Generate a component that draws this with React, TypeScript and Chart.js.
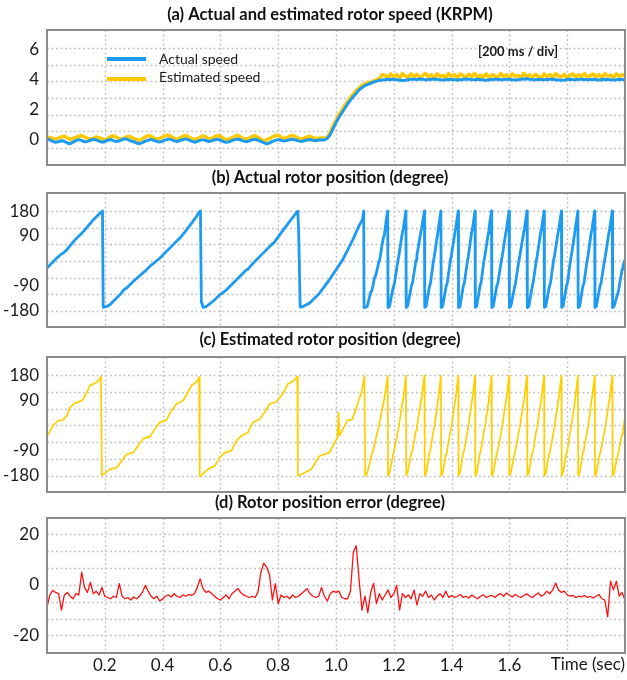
import React, { useEffect, useRef } from "react";
import { Chart, registerables } from "chart.js";

Chart.register(...registerables);

const FONT = "Lato, 'Open Sans', sans-serif";

// ---------- DATA ----------
const timeSec = [
  0, 0.01, 0.02, 0.03, 0.04, 0.05, 0.06, 0.07, 0.08, 0.09,
  0.1, 0.11, 0.12, 0.13, 0.14, 0.15, 0.16, 0.17, 0.18, 0.19,
  0.2, 0.21, 0.22, 0.23, 0.24, 0.25, 0.26, 0.27, 0.28, 0.29,
  0.3, 0.31, 0.32, 0.33, 0.34, 0.35, 0.36, 0.37, 0.38, 0.39,
  0.4, 0.41, 0.42, 0.43, 0.44, 0.45, 0.46, 0.47, 0.48, 0.49,
  0.5, 0.51, 0.52, 0.53, 0.54, 0.55, 0.56, 0.57, 0.58, 0.59,
  0.6, 0.61, 0.62, 0.63, 0.64, 0.65, 0.66, 0.67, 0.68, 0.69,
  0.7, 0.71, 0.72, 0.73, 0.74, 0.75, 0.76, 0.77, 0.78, 0.79,
  0.8, 0.81, 0.82, 0.83, 0.84, 0.85, 0.86, 0.87, 0.88, 0.89,
  0.9, 0.91, 0.92, 0.93, 0.94, 0.95, 0.96, 0.97, 0.98, 0.99,
  1.0, 1.01, 1.02, 1.03, 1.04, 1.05, 1.06, 1.07, 1.08, 1.09,
  1.1, 1.11, 1.12, 1.13, 1.14, 1.15, 1.16, 1.17, 1.18, 1.19,
  1.2, 1.21, 1.22, 1.23, 1.24, 1.25, 1.26, 1.27, 1.28, 1.29,
  1.3, 1.31, 1.32, 1.33, 1.34, 1.35, 1.36, 1.37, 1.38, 1.39,
  1.4, 1.41, 1.42, 1.43, 1.44, 1.45, 1.46, 1.47, 1.48, 1.49,
  1.5, 1.51, 1.52, 1.53, 1.54, 1.55, 1.56, 1.57, 1.58, 1.59,
  1.6, 1.61, 1.62, 1.63, 1.64, 1.65, 1.66, 1.67, 1.68, 1.69,
  1.7, 1.71, 1.72, 1.73, 1.74, 1.75, 1.76, 1.77, 1.78, 1.79,
  1.8, 1.81, 1.82, 1.83, 1.84, 1.85, 1.86, 1.87, 1.88, 1.89,
  1.9, 1.91, 1.92, 1.93, 1.94, 1.95, 1.96, 1.97, 1.98, 1.99,
  2.0,
];

// KRPM
const actualSpeed = [
  0.05, 0.0, -0.1, -0.15, -0.12, -0.05, -0.08, -0.2, -0.25, -0.15,
  -0.05, 0.02, -0.04, -0.12, -0.1, -0.02, 0.05, 0.0, -0.08, -0.15,
  -0.1, -0.02, 0.03, -0.05, -0.1, -0.06, 0.02, 0.08, 0.02, -0.06,
  -0.12, -0.2, -0.25, -0.18, -0.08, -0.02, 0.04, -0.03, -0.1, -0.14,
  -0.08, 0.0, 0.06, 0.02, -0.06, -0.1, -0.04, 0.03, 0.07, 0.0,
  -0.08, -0.15, -0.1, -0.03, 0.02, -0.04, -0.1, -0.06, 0.02, 0.05,
  -0.02, -0.1, -0.16, -0.12, -0.04, 0.02, 0.06, 0.0, -0.08, -0.12,
  -0.06, 0.02, 0.05, -0.02, -0.1, -0.18, -0.26, -0.2, -0.1, -0.03,
  0.03, -0.02, -0.08, -0.04, 0.02, 0.05, 0.0, -0.06, -0.1, -0.05,
  0.0, 0.03, -0.02, -0.05, 0.0, 0.02, 0.0,
  0.1, 0.35, 0.75, 1.15, 1.5, 1.8, 2.1, 2.4, 2.65, 2.9,
  3.1, 3.35, 3.5, 3.62, 3.7, 3.78, 3.86, 3.92, 3.97, 4.0,
  4.02, 4.04, 4.03, 4.05, 4.02, 4.0, 3.96, 3.98, 4.02, 4.04,
  4.05, 4.03, 4.06, 4.04, 4.02, 4.03, 4.05, 4.07, 4.04, 4.02,
  4.0, 4.02, 4.04, 4.03, 4.01, 3.99, 4.02, 4.04, 4.06, 4.05,
  4.03, 4.02, 4.04, 4.03, 4.0, 3.98, 4.01, 4.03, 4.05, 4.04,
  4.02, 4.03, 4.05, 4.04, 4.02, 4.0, 4.02, 4.04, 4.06, 4.08,
  4.05, 4.03, 4.02, 4.04, 4.03, 4.01, 4.03, 4.05, 4.04, 4.02,
  4.0, 3.98, 4.0, 4.03, 4.05, 4.03, 4.02, 4.04, 4.05, 4.03,
  4.01, 4.03, 4.04, 4.02, 4.0, 4.02, 4.04, 4.03, 4.02, 4.0,
  4.02, 4.04, 4.03, 4.02,
];

const estimatedSpeed = [
  0.2, 0.15, 0.1, 0.05, 0.12, 0.2, 0.25, 0.15, 0.05, 0.1,
  0.18, 0.25, 0.3, 0.2, 0.1, 0.05, 0.1, 0.2, 0.15, 0.08,
  0.0, 0.1, 0.22, 0.28, 0.18, 0.08, 0.05, 0.15, 0.25, 0.2,
  0.1, 0.02, -0.02, 0.08, 0.2, 0.3, 0.25, 0.12, 0.05, 0.1,
  0.2, 0.3, 0.33, 0.22, 0.1, 0.05, 0.12, 0.25, 0.3, 0.2,
  0.1, 0.02, 0.08, 0.18, 0.28, 0.2, 0.08, 0.1, 0.22, 0.3,
  0.25, 0.12, 0.0, 0.05, 0.15, 0.25, 0.32, 0.2, 0.1, 0.05,
  0.12, 0.22, 0.28, 0.18, 0.05, -0.05, 0.0, 0.1, 0.2, 0.28,
  0.32, 0.2, 0.1, 0.15, 0.25, 0.3, 0.22, 0.1, 0.05, 0.12,
  0.2, 0.25, 0.15, 0.1, 0.12, 0.15, 0.1,
  0.2, 0.5, 0.95, 1.3, 1.7, 1.95, 2.3, 2.55, 2.85, 3.05,
  3.3, 3.45, 3.65, 3.7, 3.85, 3.8, 3.95, 4.0, 4.1, 4.35,
  4.3, 4.15, 4.4, 4.2, 4.35, 4.12, 4.42, 4.25, 4.18, 4.4,
  4.22, 4.38, 4.15, 4.3, 4.44, 4.2, 4.35, 4.12, 4.4, 4.25,
  4.3, 4.16, 4.42, 4.22, 4.36, 4.14, 4.4, 4.28, 4.18, 4.38,
  4.24, 4.42, 4.16, 4.32, 4.2, 4.4, 4.15, 4.35, 4.26, 4.18,
  4.42, 4.22, 4.36, 4.14, 4.4, 4.25, 4.3, 4.16, 4.44, 4.2,
  4.35, 4.18, 4.38, 4.24, 4.14, 4.4, 4.22, 4.36, 4.16, 4.42,
  4.26, 4.2, 4.38, 4.14, 4.32, 4.4, 4.18, 4.35, 4.22, 4.42,
  4.16, 4.3, 4.4, 4.2, 4.36, 4.15, 4.42, 4.25, 4.32, 4.18,
  4.4, 4.22, 4.35, 4.28,
];

// degrees
const positionError = [
  -8.8, -4, -2.2, -3, -3.5, -10, -4, -3, -4.5, -5.5,
  -3.5, -4, 5, -1, -3, 1, -3.5, -2.5, -4, -1,
  -4.5, -5, -5.5, -4.5, -5, 0.5, -4.5, -5.5, -5, -6,
  -4.8, -5.5, -4.5, -3, -0.2, -2.5, -4.5, -5.5, -4.5, -6.4,
  -5.5, -4.5, -4, -4.8, -3.5, -4.5, -5, -4, -4.5, -3.8,
  -4.2, -3.5, -1, 2.4, -1.5, -3, -2.5, -3.5, -4.5, -5.5,
  -6, -5, -4, -5.5, -3.5, -2.5, -1.4, -3, -4, -4.5,
  -5, -4.5, -5, -3, 5, 8.6, 7, 4, -6, 0.5,
  -7.4, -4, -5, -4.5, -5.5, -4, -5, -4.5, -3.5, -2.5,
  -1.5, -3.5, -4.5, -5, -4.5, -1, -4.5, -6.4, -3.5, -2.5,
  -3, -2.5, -5, -5.5, -5.5, -2.5, 13, 15.5, 2, -10,
  -4.5, -11, -3, 0.6, -7.4, -3.5, -6, -4, -2, -5,
  -3.5, -0.2, -10, -3.5, -5, -4, -5.5, -2, -8, -3.5,
  -4.5, -2.5, -5, -4, -6, -4.5, -3.5, -5, -2.5, -5,
  -4.2, -5, -4.5, -3.8, -5, -4.5, -5.2, -4, -4.8, -5.5,
  -4.5, -4, -5, -4.5, -4.2, -5, -4, -3.5, -4.5, -3.2,
  -4, -4.8, -3.8, -4.5, -5, -4.2, -3.5, -4.5, -5, -4,
  -3.2, -4.5, -3.8, -2.5, -3.5, -2, 0.7, -2, -3, -2.5,
  -4, -4.5, -4.2, -5, -4.5, -4.8, -4.2, -5, -4.5, -5.2,
  -4.5, -3.8, -5.5, -6, -12.7, 1.5, -2, 1.5, -4.5, -3,
  -6,
];

// [time (s), angle (deg)]
const actualPosition = [
  [0, -25], [0.033, 10], [0.05, 25], [0.055, 28], [0.068, 40], [0.097, 76], [0.11, 90], [0.115, 94], [0.131, 112], [0.16, 148], [0.183, 172], [0.192, 180],
  [0.1945, -167], [0.205, -165], [0.2176, -158], [0.252, -122], [0.27, -100], [0.275, -98], [0.298, -74], [0.344, -32], [0.36, -15], [0.365, -12], [0.39, 10], [0.436, 58], [0.455, 78], [0.46, 82], [0.483, 112], [0.517, 160], [0.528, 178], [0.531, 180],
  [0.534, -150], [0.536, -152], [0.54, -167], [0.55, -165], [0.574, -146], [0.6, -120], [0.605, -117], [0.621, -104], [0.667, -56], [0.69, -32], [0.695, -30], [0.713, -8], [0.759, 40], [0.78, 62], [0.785, 65], [0.805, 94], [0.839, 142], [0.866, 178], [0.868, 180],
  [0.871, 94], [0.876, -165], [0.88, -167], [0.908, -152], [0.943, -116], [0.977, -68], [1.023, 4], [1.058, 76], [1.081, 130], [1.087, 140], [1.092, 150], [1.096, 180],
  [1.097, -168], [1.108, -165], [1.12, -112], [1.124, -108], [1.133, -62], [1.138, -50], [1.148, -5], [1.152, 8], [1.163, 80], [1.167, 92], [1.174, 150], [1.179, 180],
  [1.18, -168], [1.185, -164], [1.198, -95], [1.202, -82], [1.214, 0], [1.217, 15], [1.229, 98], [1.233, 118], [1.242, 180],
  [1.243, -168], [1.248, -162], [1.261, -90], [1.265, -78], [1.277, 4], [1.28, 20], [1.293, 102], [1.296, 116], [1.306, 180],
  [1.307, -167], [1.312, -163], [1.323, -94], [1.327, -80], [1.337, 0], [1.34, 16], [1.352, 100], [1.354, 114], [1.363, 180],
  [1.364, -168], [1.369, -164], [1.381, -92], [1.385, -79], [1.396, 3], [1.399, 19], [1.411, 99], [1.414, 117], [1.423, 180],
  [1.424, -168], [1.429, -165], [1.44, -93], [1.444, -80], [1.455, 1], [1.458, 17], [1.469, 101], [1.472, 115], [1.481, 180],
  [1.482, -167], [1.487, -163], [1.498, -91], [1.502, -78], [1.512, 2], [1.515, 18], [1.527, 100], [1.529, 116], [1.538, 180],
  [1.539, -168], [1.544, -164], [1.556, -92], [1.56, -80], [1.572, 0], [1.575, 16], [1.587, 98], [1.59, 115], [1.599, 180],
  [1.6, -168], [1.605, -163], [1.618, -94], [1.621, -81], [1.633, 2], [1.636, 18], [1.649, 100], [1.652, 117], [1.661, 180],
  [1.662, -168], [1.667, -164], [1.679, -92], [1.682, -79], [1.693, 1], [1.696, 17], [1.708, 101], [1.711, 116], [1.72, 180],
  [1.721, -167], [1.726, -164], [1.738, -93], [1.742, -80], [1.753, 3], [1.756, 18], [1.768, 99], [1.771, 115], [1.78, 180],
  [1.781, -168], [1.786, -163], [1.797, -92], [1.801, -79], [1.811, 0], [1.814, 17], [1.826, 100], [1.828, 116], [1.837, 180],
  [1.838, -168], [1.843, -164], [1.854, -91], [1.858, -80], [1.869, 2], [1.872, 18], [1.883, 101], [1.886, 115], [1.895, 180],
  [1.896, -168], [1.901, -163], [1.913, -93], [1.917, -80], [1.929, 1], [1.932, 17], [1.944, 99], [1.947, 116], [1.956, 180],
  [1.957, -168], [1.962, -164], [1.974, -120], [1.978, -105], [1.99, -30], [1.993, -18], [2.0, 5],
];

// [time (s), angle (deg)]
const estimatedPosition = [
  [0, -40], [0.0207, -1], [0.038, 17], [0.0553, 20], [0.0691, 35], [0.0794, 65], [0.0967, 80], [0.1209, 89], [0.1382, 119], [0.1485, 143], [0.1727, 155], [0.1831, 167], [0.1865, 176],
  [0.19, -178], [0.1945, -175], [0.2176, -157], [0.2408, -151], [0.258, -127], [0.2753, -103], [0.2981, -97], [0.3154, -73], [0.3326, -47], [0.3558, -40], [0.3731, -13], [0.3903, 11], [0.4135, 20], [0.4307, 53], [0.448, 77], [0.4708, 89], [0.4881, 119], [0.4998, 143], [0.5171, 155], [0.5261, 173],
  [0.5285, -180], [0.5344, -179], [0.5561, -157], [0.5803, -145], [0.5976, -115], [0.6149, -97], [0.638, -91], [0.6553, -55], [0.6725, -37], [0.6953, -25], [0.7126, 11], [0.7358, 23], [0.753, 47], [0.7703, 77], [0.7934, 85], [0.8162, 113], [0.8335, 149], [0.8508, 157], [0.866, 176],
  [0.868, -179], [0.8715, -179], [0.8912, -169], [0.9143, -157], [0.9316, -127], [0.943, -109], [0.9775, -97], [0.9948, -61], [1.0052, -43], [1.0086, 47], [1.0121, -36], [1.0397, 18], [1.057, 22], [1.0743, 76], [1.0881, 119], [1.0984, 176],
  [1.101, -180], [1.108, -172], [1.124, -100], [1.128, -92], [1.144, -20], [1.148, -5], [1.164, 80], [1.168, 100], [1.179, 178],
  [1.18, -180], [1.185, -170], [1.198, -102], [1.201, -90], [1.214, -22], [1.217, -6], [1.229, 78], [1.233, 98], [1.242, 178],
  [1.243, -179], [1.248, -168], [1.261, -98], [1.264, -90], [1.277, -18], [1.28, -4], [1.293, 82], [1.296, 100], [1.306, 178],
  [1.307, -180], [1.312, -170], [1.323, -100], [1.326, -92], [1.337, -20], [1.34, -6], [1.352, 80], [1.354, 99], [1.363, 178],
  [1.364, -180], [1.369, -171], [1.381, -101], [1.384, -91], [1.396, -21], [1.399, -5], [1.411, 79], [1.414, 101], [1.423, 178],
  [1.424, -180], [1.429, -169], [1.44, -99], [1.443, -92], [1.455, -19], [1.458, -4], [1.469, 81], [1.472, 98], [1.481, 178],
  [1.482, -180], [1.487, -170], [1.498, -100], [1.501, -91], [1.512, -20], [1.515, -6], [1.527, 80], [1.529, 100], [1.538, 178],
  [1.539, -180], [1.544, -171], [1.556, -102], [1.559, -92], [1.572, -21], [1.575, -5], [1.587, 79], [1.59, 99], [1.599, 178],
  [1.6, -179], [1.605, -169], [1.618, -100], [1.621, -90], [1.633, -20], [1.636, -5], [1.649, 81], [1.652, 100], [1.661, 178],
  [1.662, -180], [1.667, -170], [1.679, -99], [1.682, -92], [1.693, -19], [1.696, -6], [1.708, 80], [1.711, 99], [1.72, 178],
  [1.721, -180], [1.726, -170], [1.738, -101], [1.741, -91], [1.753, -21], [1.756, -5], [1.768, 79], [1.771, 101], [1.78, 178],
  [1.781, -180], [1.786, -169], [1.797, -100], [1.8, -92], [1.811, -20], [1.814, -4], [1.826, 80], [1.828, 98], [1.837, 178],
  [1.838, -180], [1.843, -171], [1.854, -99], [1.857, -91], [1.869, -20], [1.872, -6], [1.883, 81], [1.886, 100], [1.895, 178],
  [1.896, -180], [1.901, -170], [1.913, -101], [1.916, -92], [1.929, -21], [1.932, -5], [1.944, 80], [1.947, 99], [1.956, 178],
  [1.957, -180], [1.962, -170], [1.974, -110], [1.977, -100], [1.99, -30], [1.993, -15], [2.0, 30],
];

const speedTicks = [0, 2, 4, 6];
const angleTicks = [-180, -90, 90, 180];
const errorTicks = [-20, 0, 20];
const timeTicks = [0.2, 0.4, 0.6, 0.8, 1.0, 1.2, 1.4, 1.6];
const timeGrid = [0.2, 0.4, 0.6, 0.8, 1.0, 1.2, 1.4, 1.6, 1.8];
const timeAxisLabel = "Time (sec)";
const divisionNote = "[200 ms / div]";

const BLUE = "#1e9bf0";
const YELLOW = "#ffcf00";
const RED = "#ff1010";
const TEXT = "#1a1a1a";

function zip(t: number[], v: number[]) {
  return t.map((x, i) => ({ x, y: v[i] }));
}
function pairs(p: number[][]) {
  return p.map(([x, y]) => ({ x, y }));
}

type Spec = {
  key: string;
  title: string;
  top: number;
  height: number;
  padBottom: number;
  titleGap: number;
  yMin: number;
  yMax: number;
  yTicks: number[];
  hGrid: number[];
  showX: boolean;
  datasets: any[];
  extras?: (ctx: CanvasRenderingContext2D, a: any, chart: any) => void;
};

const lineDefaults = {
  pointRadius: 0,
  fill: false,
  tension: 0,
  borderJoinStyle: "round",
  borderCapStyle: "butt",
  spanGaps: true,
};

const specs: Spec[] = [
  {
    key: "a",
    title: "(a) Actual and estimated rotor speed (KRPM)",
    top: 0,
    height: 189,
    padBottom: 24,
    titleGap: 15,
    yMin: -1.67,
    yMax: 7.33,
    yTicks: speedTicks,
    hGrid: [-0.53, 0.58, 1.69, 2.8, 3.91, 5.02, 6.13],
    showX: false,
    datasets: [
      { ...lineDefaults, label: "Actual speed", data: zip(timeSec, actualSpeed), borderColor: BLUE, borderWidth: 3 },
      { ...lineDefaults, label: "Estimated speed", data: zip(timeSec, estimatedSpeed), borderColor: "#ffc800", borderWidth: 3.5 },
    ],
    extras: (ctx, a, chart) => {
      const ds = chart.data.datasets;
      const lineY = [a.top + 29, a.top + 49];
      const textY = [a.top + 29, a.top + 47];
      ds.forEach((d: any, i: number) => {
        ctx.strokeStyle = d.borderColor;
        ctx.lineWidth = 4;
        ctx.setLineDash([]);
        ctx.beginPath();
        ctx.moveTo(a.left + 60, lineY[i]);
        ctx.lineTo(a.left + 99, lineY[i]);
        ctx.stroke();
        ctx.font = `14px ${FONT}`;
        ctx.fillStyle = TEXT;
        ctx.textAlign = "left";
        ctx.textBaseline = "middle";
        ctx.fillText(d.label, a.left + 112, textY[i]);
      });
      ctx.font = `bold 13px ${FONT}`;
      ctx.textAlign = "right";
      ctx.fillText(divisionNote, a.right - 67, a.top + 22);
    },
  },
  {
    key: "b",
    title: "(b) Actual rotor position (degree)",
    top: 163,
    height: 188,
    padBottom: 24,
    titleGap: 15,
    yMin: -238,
    yMax: 245,
    yTicks: angleTicks,
    hGrid: [-180, -120, -60, 0, 60, 120, 180],
    showX: false,
    datasets: [
      { ...lineDefaults, label: "Actual position", data: pairs(actualPosition), borderColor: BLUE, borderWidth: 2.8 },
    ],
  },
  {
    key: "c",
    title: "(c) Estimated rotor position (degree)",
    top: 327,
    height: 189,
    padBottom: 24,
    titleGap: 17,
    yMin: -238,
    yMax: 245,
    yTicks: angleTicks,
    hGrid: [-180, -120, -60, 0, 60, 120, 180],
    showX: false,
    datasets: [
      { ...lineDefaults, label: "Estimated position", data: pairs(estimatedPosition), borderColor: YELLOW, borderWidth: 1.7 },
    ],
  },
  {
    key: "d",
    title: "(d) Rotor position error (degree)",
    top: 488,
    height: 192,
    padBottom: 0,
    titleGap: 15,
    yMin: -27,
    yMax: 26.5,
    yTicks: errorTicks,
    hGrid: [-20, -13.33, -6.67, 0, 6.67, 13.33, 20],
    showX: true,
    datasets: [
      { ...lineDefaults, label: "Position error", data: zip(timeSec, positionError), borderColor: RED, borderWidth: 1.3 },
    ],
    extras: (ctx, a) => {
      ctx.font = `17px ${FONT}`;
      ctx.fillStyle = TEXT;
      ctx.textAlign = "right";
      ctx.textBaseline = "middle";
      ctx.fillText(timeAxisLabel, a.right, a.bottom + 12);
    },
  },
];

function makeDecor(spec: Spec) {
  return {
    id: "decor_" + spec.key,
    beforeDatasetsDraw(chart: any) {
      const { ctx, chartArea: a, scales } = chart;
      const x = scales.x;
      const y = scales.y;
      ctx.save();
      ctx.strokeStyle = "#c4c4c4";
      ctx.lineWidth = 1.4;
      ctx.setLineDash([2, 2.5]);
      ctx.beginPath();
      for (const v of spec.hGrid) {
        const py = Math.round(y.getPixelForValue(v)) + 0.5;
        ctx.moveTo(a.left, py);
        ctx.lineTo(a.right, py);
      }
      for (const v of timeGrid) {
        const px = Math.round(x.getPixelForValue(v)) + 0.5;
        ctx.moveTo(px, a.top);
        ctx.lineTo(px, a.bottom);
      }
      ctx.stroke();
      ctx.restore();
    },
    afterDatasetsDraw(chart: any) {
      const { ctx, chartArea: a } = chart;
      ctx.save();
      ctx.setLineDash([]);
      ctx.strokeStyle = "#8c8c8c";
      ctx.lineWidth = 2;
      ctx.strokeRect(a.left, a.top, a.right - a.left, a.bottom - a.top);
      ctx.font = `bold 16.5px ${FONT}`;
      ctx.fillStyle = "#111";
      ctx.textAlign = "center";
      ctx.textBaseline = "middle";
      ctx.fillText(spec.title, (a.left + a.right) / 2 - 6, a.top - spec.titleGap);
      if (spec.extras) spec.extras(ctx, a, chart);
      ctx.restore();
    },
  };
}

function Panel({ spec }: { spec: Spec }) {
  const ref = useRef<HTMLCanvasElement>(null);
  useEffect(() => {
    const canvas = ref.current;
    if (!canvas) return;
    const tickFont = { family: FONT, size: 17 };
    const chart = new Chart(canvas, {
      type: "line",
      data: { datasets: spec.datasets },
      options: {
        animation: false,
        responsive: false,
        devicePixelRatio: 1,
        events: [],
        layout: { padding: { top: 30, bottom: spec.padBottom, left: 0, right: 2 } },
        plugins: {
          legend: { display: false },
          title: { display: false },
          tooltip: { enabled: false },
        },
        scales: {
          x: {
            type: "linear",
            min: 0,
            max: 2,
            display: spec.showX,
            grid: { display: false, drawTicks: false },
            border: { display: false },
            ticks: {
              autoSkip: false,
              maxRotation: 0,
              padding: 2,
              font: tickFont,
              color: TEXT,
              callback: (v: any) => Number(v).toFixed(1),
            },
            afterBuildTicks: (s: any) => {
              s.ticks = timeTicks.map((v) => ({ value: v }));
            },
            afterFit: (s: any) => {
              s.height = spec.showX ? 27 : 0;
            },
          },
          y: {
            type: "linear",
            min: spec.yMin,
            max: spec.yMax,
            grid: { display: false, drawTicks: false },
            border: { display: false },
            ticks: {
              autoSkip: false,
              padding: 8,
              font: tickFont,
              color: TEXT,
              callback: (v: any) => String(v),
            },
            afterBuildTicks: (s: any) => {
              s.ticks = spec.yTicks.map((v) => ({ value: v }));
            },
            afterFit: (s: any) => {
              s.width = 47;
            },
          },
        },
      } as any,
      plugins: [makeDecor(spec)],
    });
    return () => chart.destroy();
  }, [spec]);
  return (
    <canvas
      ref={ref}
      width={627}
      height={spec.height}
      style={{ position: "absolute", left: 0, top: spec.top, width: 627, height: spec.height }}
    />
  );
}

export default function App() {
  return (
    <div
      style={{
        position: "absolute",
        left: 0,
        top: 0,
        width: 627,
        height: 680,
        background: "#ffffff",
        overflow: "hidden",
      }}
    >
      {specs.map((s) => (
        <Panel key={s.key} spec={s} />
      ))}
    </div>
  );
}
